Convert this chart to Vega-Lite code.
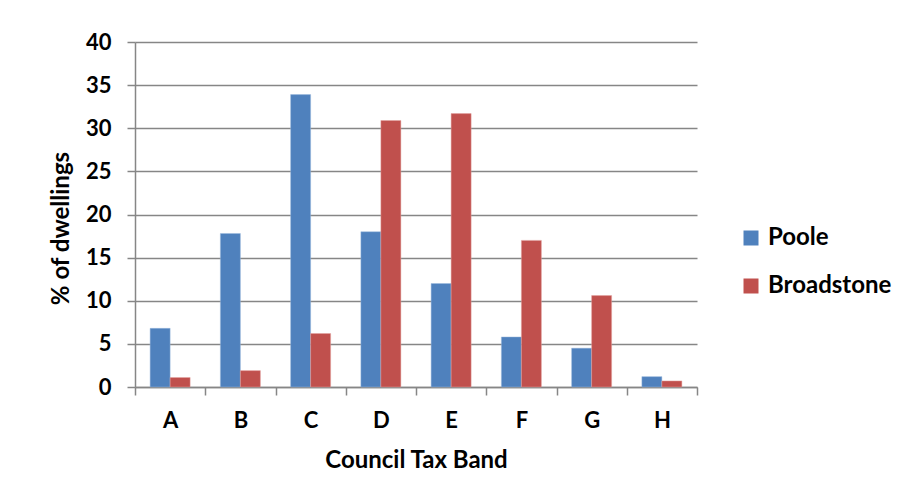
{
  "$schema": "https://vega.github.io/schema/vega-lite/v6.json",
  "autosize": {"type": "none"},
  "padding": {"left": 135, "top": 42, "right": 204, "bottom": 114},
  "width": 562,
  "height": 345,
  "background": "white",
  "data": {
    "values": [
      {"band": "A", "area": "Poole", "pct": 6.8},
      {"band": "A", "area": "Broadstone", "pct": 1.1},
      {"band": "B", "area": "Poole", "pct": 17.8},
      {"band": "B", "area": "Broadstone", "pct": 1.9},
      {"band": "C", "area": "Poole", "pct": 33.9},
      {"band": "C", "area": "Broadstone", "pct": 6.2},
      {"band": "D", "area": "Poole", "pct": 18.0},
      {"band": "D", "area": "Broadstone", "pct": 30.9},
      {"band": "E", "area": "Poole", "pct": 12.0},
      {"band": "E", "area": "Broadstone", "pct": 31.7},
      {"band": "F", "area": "Poole", "pct": 5.8},
      {"band": "F", "area": "Broadstone", "pct": 17.0},
      {"band": "G", "area": "Poole", "pct": 4.5},
      {"band": "G", "area": "Broadstone", "pct": 10.6},
      {"band": "H", "area": "Poole", "pct": 1.2},
      {"band": "H", "area": "Broadstone", "pct": 0.7}
    ]
  },
  "mark": {"type": "bar", "strokeWidth": 0.8, "strokeOpacity": 0.6},
  "encoding": {
    "x": {
      "field": "band",
      "type": "nominal",
      "scale": {"paddingInner": 0, "paddingOuter": 0},
      "axis": {
        "title": "Council Tax Band",
        "labelAngle": 0,
        "tickBand": "extent",
        "tickSize": 8,
        "labelPadding": 15,
        "titlePadding": 17
      }
    },
    "xOffset": {
      "field": "area",
      "type": "nominal",
      "sort": ["Poole", "Broadstone"],
      "scale": {"paddingInner": 0, "paddingOuter": 0.756}
    },
    "y": {
      "field": "pct",
      "type": "quantitative",
      "scale": {"domain": [0, 40], "nice": false},
      "axis": {
        "title": "% of dwellings",
        "values": [0, 5, 10, 15, 20, 25, 30, 35, 40],
        "tickSize": 8,
        "labelPadding": 16,
        "titleX": -67,
        "titleY": 186,
        "titleBaseline": "alphabetic",
        "grid": true
      }
    },
    "color": {
      "field": "area",
      "type": "nominal",
      "sort": ["Poole", "Broadstone"],
      "scale": {"domain": ["Poole", "Broadstone"], "range": ["#4F81BD", "#C0504D"]},
      "legend": {
        "title": null,
        "orient": "none",
        "legendX": 604,
        "legendY": 184,
        "symbolType": "square",
        "symbolSize": 225,
        "symbolStrokeWidth": 0,
        "labelOffset": 5,
        "rowPadding": 24,
        "padding": 0
      }
    },
    "stroke": {
      "field": "area",
      "type": "nominal",
      "scale": {"domain": ["Poole", "Broadstone"], "range": ["#9db9de", "#e3a3a1"]},
      "legend": null
    }
  },
  "config": {
    "font": "Lato",
    "view": {"stroke": null},
    "axis": {
      "domainColor": "#868686",
      "domainWidth": 1.5,
      "tickColor": "#868686",
      "tickWidth": 1.5,
      "gridColor": "#868686",
      "gridWidth": 1.5,
      "gridOpacity": 1,
      "labelFont": "Lato",
      "labelFontSize": 22,
      "labelFontWeight": "bold",
      "labelColor": "black",
      "titleFont": "Lato",
      "titleFontSize": 24,
      "titleFontWeight": "bold",
      "titleColor": "black"
    },
    "legend": {
      "labelFont": "Lato",
      "labelFontSize": 24,
      "labelFontWeight": "bold",
      "labelColor": "black"
    }
  }
}
